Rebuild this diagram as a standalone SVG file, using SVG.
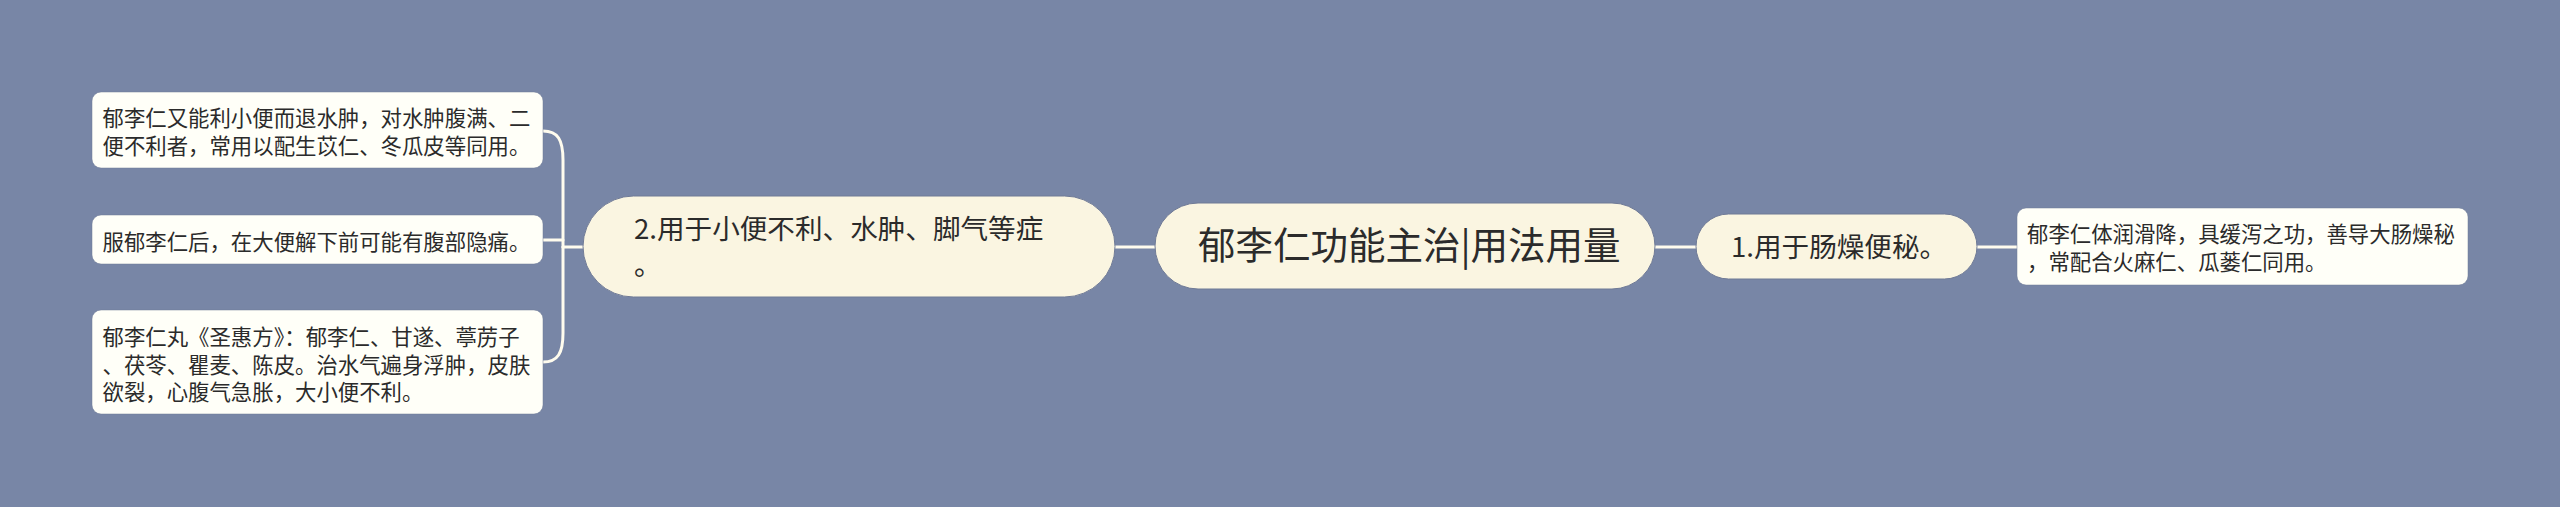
<svg xmlns="http://www.w3.org/2000/svg" width="2560" height="507" viewBox="0 0 2560 507">
<style>
.bg{fill:#7886a6}
.main{fill:#faf5e1;stroke:#6f7a96;stroke-width:1}
.leaf{fill:#fffff8;stroke:#6f7a96;stroke-width:0.5}
.t{font-family:"Noto Sans CJK SC","Noto Sans",sans-serif;fill:#2b2b2b}
.lt{font-size:21.4px}
.nt{font-size:27.6px}
.ct{font-size:37.5px}
.conn{fill:none;stroke:#fffcee;stroke-width:3;stroke-linecap:round}
</style>
<rect class="bg" x="0" y="0" width="2560" height="507"/>
<g id="connectors">
<path class="conn" d="M1115 247 H1155"/>
<path class="conn" d="M1655 247 H1696"/>
<path class="conn" d="M1977 247 H2017"/>
<path class="conn" d="M583 247 H563"/>
<path class="conn" d="M563 247 V160 C563 140 558 131 543 131"/>
<path class="conn" d="M563 240 H543"/>
<path class="conn" d="M563 247 V333 C563 353 558 362 543 362"/>
</g>
<g id="center">
<rect class="main" x="1155" y="203" width="500" height="86" rx="43"/>
<text class="t ct" x="1198" y="259">郁李仁功能主治|用法用量</text>
</g>
<g id="node1">
<rect class="main" x="1696" y="214" width="281" height="65" rx="32.5"/>
<text class="t nt" x="1731" y="257">1.用于肠燥便秘。</text>
</g>
<g id="node2">
<rect class="main" x="583" y="196" width="532" height="101" rx="50.5"/>
<text class="t nt" x="634" y="239">2.用于小便不利、水肿、脚气等症</text>
<text class="t nt" x="634" y="275">。</text>
</g>
<g id="leafR">
<rect class="leaf" x="2017" y="208" width="451" height="77" rx="9"/>
<text class="t lt" x="2027" y="242">郁李仁体润滑降，具缓泻之功，善导大肠燥秘</text>
<text class="t lt" x="2027" y="270">，常配合火麻仁、瓜蒌仁同用。</text>
</g>
<g id="leaf1">
<rect class="leaf" x="92" y="92" width="451" height="76" rx="9"/>
<text class="t lt" x="102.5" y="125.5">郁李仁又能利小便而退水肿，对水肿腹满、二</text>
<text class="t lt" x="102.5" y="154">便不利者，常用以配生苡仁、冬瓜皮等同用。</text>
</g>
<g id="leaf2">
<rect class="leaf" x="92" y="215" width="451" height="49" rx="9"/>
<text class="t lt" x="102.5" y="249.5">服郁李仁后，在大便解下前可能有腹部隐痛。</text>
</g>
<g id="leaf3">
<rect class="leaf" x="92" y="310" width="451" height="104" rx="9"/>
<text class="t lt" x="102.5" y="344.5">郁李仁丸《圣惠方》：郁李仁、甘遂、葶苈子</text>
<text class="t lt" x="102.5" y="372.5">、茯苓、瞿麦、陈皮。治水气遍身浮肿，皮肤</text>
<text class="t lt" x="102.5" y="399.5">欲裂，心腹气急胀，大小便不利。</text>
</g>
</svg>
